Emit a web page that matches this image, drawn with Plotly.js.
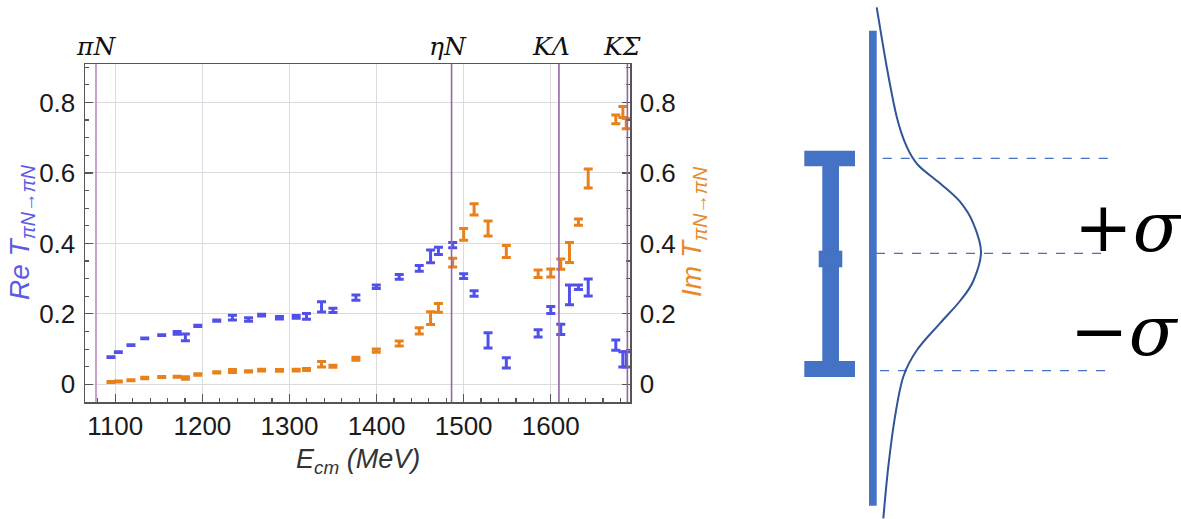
<!DOCTYPE html>
<html>
<head>
<meta charset="utf-8">
<script src="https://cdn.plot.ly/plotly-3.0.1.min.js"></script>
<style>html,body{margin:0;padding:0;background:#fff;}#chart{width:1181px;height:519px;}</style>
</head>
<body>
<div id="chart"></div>
<script>
// ---------------- data ----------------
const energy = [1095, 1103.5, 1118, 1133.8, 1153.3, 1171, 1180.5, 1194.7, 1216.5, 1234.5, 1253, 1268, 1288.5, 1307.7, 1319.5, 1336.8, 1349.9, 1376.3, 1399.7, 1426, 1449, 1462, 1471, 1487.4, 1500, 1512, 1528, 1549, 1585.5, 1600, 1611.5, 1621.5, 1631.8, 1643, 1674.7, 1682.8, 1686.7];
const reT = [0.0774, 0.0916, 0.1115, 0.1305, 0.140, 0.146, 0.1336, 0.166, 0.181, 0.1895, 0.184, 0.1966, 0.189, 0.1915, 0.193, 0.220, 0.210, 0.246, 0.277, 0.305, 0.329, 0.363, 0.379, 0.395, 0.307, 0.258, 0.125, 0.061, 0.1447, 0.211, 0.156, 0.254, 0.2755, 0.275, 0.1115, 0.071, 0.071];
const reErr = [0.001, 0.001, 0.001, 0.001, 0.001, 0.004, 0.0095, 0.0015, 0.002, 0.0066, 0.0047, 0.0024, 0.0033, 0.004, 0.008, 0.0147, 0.006, 0.0076, 0.0052, 0.0066, 0.008, 0.018, 0.0104, 0.0076, 0.0066, 0.008, 0.0217, 0.0147, 0.01, 0.01, 0.0147, 0.028, 0.0066, 0.024, 0.0147, 0.0217, 0.0217];
const imT = [0.0065, 0.0085, 0.012, 0.018, 0.0207, 0.0216, 0.018, 0.028, 0.034, 0.038, 0.037, 0.0406, 0.0397, 0.0406, 0.042, 0.057, 0.0514, 0.0726, 0.096, 0.116, 0.152, 0.188, 0.217, 0.3455, 0.4255, 0.4967, 0.4425, 0.377, 0.3138, 0.316, 0.341, 0.374, 0.4604, 0.584, 0.752, 0.773, 0.740];
const imErr = [0.0014, 0.0014, 0.0014, 0.0019, 0.0014, 0.0014, 0.0033, 0.0019, 0.0019, 0.004, 0.0019, 0.0024, 0.0024, 0.0024, 0.0028, 0.0076, 0.0028, 0.0043, 0.0047, 0.0071, 0.009, 0.0184, 0.0123, 0.0123, 0.0165, 0.016, 0.0213, 0.017, 0.0109, 0.0113, 0.0147, 0.0284, 0.009, 0.027, 0.0123, 0.0156, 0.0147];
const thresholds = [1077.8, 1486.1, 1609.4, 1688];
const thresholdLabels = ['πN', 'ηN', 'KΛ', 'KΣ'];
const xTicks = [1100, 1200, 1300, 1400, 1500, 1600];
const yTicks = [0, 0.2, 0.4, 0.6, 0.8];
const yTickText = ['0', '0.2', '0.4', '0.6', '0.8'];

// ---------------- styles / layout ----------------
const W = 1181, H = 519;
const px = x => x / W;
const py = y => 1 - y / H;
const BLUE = '#5151EA', ORANGE = '#E8811C';
const SCHEM = '#4472C4', CURVE = '#2F5597';
const sans = 'Liberation Sans, Arial, sans-serif';
const serif = 'DejaVu Serif, serif';

const xr = [1065.2, 1691];
const yr = [-0.05, 0.909];

const traces = [
  {x: energy, y: reT, type: 'scatter', mode: 'markers', xaxis: 'x', yaxis: 'y',
   marker: {size: 1, color: 'rgba(0,0,0,0)'},
   error_y: {type: 'data', array: reErr, color: BLUE, thickness: 3, width: 4.5},
   hoverinfo: 'x+y'},
  {x: energy, y: imT, type: 'scatter', mode: 'markers', xaxis: 'x', yaxis: 'y2',
   marker: {size: 1, color: 'rgba(0,0,0,0)'},
   error_y: {type: 'data', array: imErr, color: ORANGE, thickness: 3, width: 4.5},
   hoverinfo: 'x+y'}
];

const shapes = [];
const lineStyles = [
  {color: '#C9A0CC', width: 2},
  {color: '#9366A8', width: 1.6},
  {color: '#9366A8', width: 1.6},
  {color: '#9366A8', width: 1.6}
];
thresholds.forEach((t, i) => {
  shapes.push({type: 'line', xref: 'x', yref: 'paper', x0: t, x1: t,
    y0: py(402), y1: py(64), line: lineStyles[i], layer: 'above'});
});

// schematic: error bar glyph
const rect = (x0, y0, x1, y1, c) => ({type: 'rect', xref: 'paper', yref: 'paper',
  x0: px(x0), x1: px(x1), y0: py(y1), y1: py(y0), fillcolor: c, line: {width: 0}});
shapes.push(rect(869, 30.7, 876.7, 505.7, SCHEM));
shapes.push(rect(804.3, 150.7, 855, 166.3, SCHEM));
shapes.push(rect(822.3, 166, 839, 361, SCHEM));
shapes.push(rect(804.3, 361, 855, 377, SCHEM));
shapes.push(rect(818.7, 250.7, 842.3, 267.3, SCHEM));
// dashed guide lines
const dline = (x0, x1, y) => ({type: 'line', xref: 'paper', yref: 'paper',
  x0: px(x0), x1: px(x1), y0: py(y), y1: py(y), line: {color: SCHEM, width: 1.2, dash: 'dash'}});
shapes.push(dline(882.7, 1112.7, 158.3));
shapes.push(dline(876, 1103, 253.3));
shapes.push(dline(880, 1109, 370.7));
// distribution curve (schematic outline points, smoothed)
const curvePts = [[876.7, 7.3], [886.7, 66.7], [896.7, 116.7], [906.7, 146.7], [918, 165],
  [940, 183.3], [960, 201.7], [973.3, 223.3], [981, 252], [973.3, 281], [960, 301],
  [940, 323.3], [917, 350], [903.3, 376.7], [895, 416.7], [888.3, 466.7], [883.3, 518.3]];
function smoothPath(pts) {
  let d = 'M ' + px(pts[0][0]) + ',' + py(pts[0][1]);
  for (let i = 0; i < pts.length - 1; i++) {
    const p0 = pts[Math.max(i - 1, 0)], p1 = pts[i], p2 = pts[i + 1], p3 = pts[Math.min(i + 2, pts.length - 1)];
    const c1 = [p1[0] + (p2[0] - p0[0]) / 6, p1[1] + (p2[1] - p0[1]) / 6];
    const c2 = [p2[0] - (p3[0] - p1[0]) / 6, p2[1] - (p3[1] - p1[1]) / 6];
    d += ' C ' + px(c1[0]) + ',' + py(c1[1]) + ' ' + px(c2[0]) + ',' + py(c2[1]) + ' ' + px(p2[0]) + ',' + py(p2[1]);
  }
  return d;
}
shapes.push({type: 'path', xref: 'paper', yref: 'paper', path: smoothPath(curvePts),
  line: {color: CURVE, width: 2}});

const labelShift = [0, -4, -8, -5];
const annotations = thresholds.map((t, i) => ({
  x: t, xref: 'x', y: py(46), yref: 'paper', xanchor: 'center', yanchor: 'middle',
  xshift: labelShift[i], showarrow: false,
  text: '<i>' + thresholdLabels[i] + '</i>', font: {family: serif, size: 25, color: '#111'}
}));
annotations.push({x: px(21), y: py(232), xref: 'paper', yref: 'paper', showarrow: false,
  textangle: -90, xanchor: 'center', yanchor: 'middle',
  text: '<i>Re T<sub>πN→πN</sub></i>', font: {family: sans, size: 28, color: '#5B5BE6'}});
annotations.push({x: px(693), y: py(232), xref: 'paper', yref: 'paper', showarrow: false,
  textangle: -90, xanchor: 'center', yanchor: 'middle',
  text: '<i>Im T<sub>πN→πN</sub></i>', font: {family: sans, size: 28, color: '#E8892E'}});
annotations.push({x: px(357.5), y: py(461), xref: 'paper', yref: 'paper', showarrow: false,
  xanchor: 'center', yanchor: 'middle',
  text: '<i>E<sub>cm</sub> (MeV)</i>', font: {family: sans, size: 27, color: '#333'}});
annotations.push({x: px(1128), y: py(227), xref: 'paper', yref: 'paper', showarrow: false,
  xanchor: 'center', yanchor: 'middle',
  text: '+<i>σ</i>', font: {family: serif, size: 70, color: '#000'}});
annotations.push({x: px(1124), y: py(331), xref: 'paper', yref: 'paper', showarrow: false,
  xanchor: 'center', yanchor: 'middle',
  text: '−<i>σ</i>', font: {family: serif, size: 70, color: '#000'}});

const gridColor = '#dcdae0';
const tickFont = {family: sans, size: 26, color: '#1a1a1a'};
const yAxisBase = {
  range: yr, domain: [py(402), py(64)], tickvals: yTicks, ticktext: yTickText,
  ticks: 'inside', ticklen: 8, tickwidth: 1.2, tickcolor: '#555',
  minor: {dtick: 0.05, tick0: 0, ticks: 'inside', ticklen: 4, tickcolor: '#555', showgrid: false},
  showline: true, linecolor: '#555', linewidth: 1.5, zeroline: false,
  tickfont: tickFont, ticklabelstandoff: 3, fixedrange: true
};

const layout = {
  width: W, height: H, autosize: false,
  margin: {l: 0, r: 0, t: 0, b: 0, pad: 0},
  paper_bgcolor: '#fff', plot_bgcolor: '#fff', showlegend: false,
  xaxis: {
    range: xr, domain: [px(85), px(630)], anchor: 'y',
    tickvals: xTicks, ticks: 'inside', ticklen: 8, tickwidth: 1.2, tickcolor: '#555',
    minor: {dtick: 20, tick0: 1000, ticks: 'inside', ticklen: 4, tickcolor: '#555', showgrid: false},
    showgrid: true, gridcolor: gridColor, gridwidth: 1,
    showline: true, linecolor: '#555', linewidth: 1.5, mirror: true, zeroline: false,
    tickfont: tickFont, fixedrange: true
  },
  yaxis: Object.assign({}, yAxisBase, {anchor: 'x', side: 'left', showgrid: true, gridcolor: gridColor, mirror: true}),
  yaxis2: Object.assign({}, yAxisBase, {anchor: 'x', overlaying: 'y', side: 'right', showgrid: false}),
  shapes: shapes,
  annotations: annotations
};

Plotly.newPlot('chart', traces, layout, {displayModeBar: false, staticPlot: true});
</script>
</body>
</html>
